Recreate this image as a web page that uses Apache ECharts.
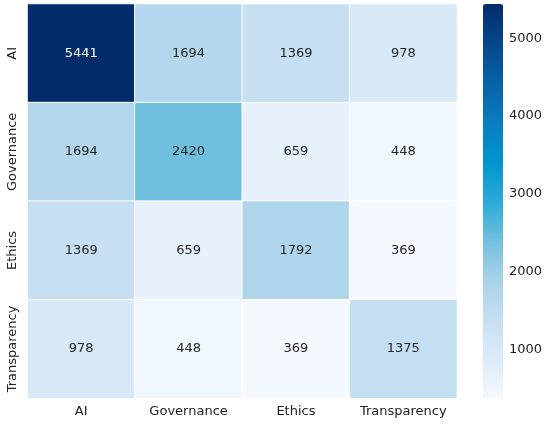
<!DOCTYPE html>
<html>
<head>
<meta charset="UTF-8">
<title>Heatmap</title>
<script src="https://cdn.jsdelivr.net/npm/echarts@6/dist/echarts.min.js"></script>
<style>
  html, body { margin: 0; padding: 0; background: #fff; }
  #main { width: 550px; height: 426px; }
</style>
</head>
<body>
<div id="main"></div>
<script>
// terms on both axes
var terms = ['AI', 'Governance', 'Ethics', 'Transparency'];
// co-occurrence counts, one row per term
var rowAI = [5441, 1694, 1369, 978];
var rowGovernance = [1694, 2420, 659, 448];
var rowEthics = [1369, 659, 1792, 369];
var rowTransparency = [978, 448, 369, 1375];
var barTicks = [1000, 2000, 3000, 4000, 5000];

var rows = [rowAI, rowGovernance, rowEthics, rowTransparency];
var vmin = 369, vmax = 5441;
var font = 'DejaVu Sans';

var cells = [];
for (var r = 0; r < rows.length; r++) {
  for (var c = 0; c < rows[r].length; c++) {
    var v = rows[r][c];
    cells.push({
      value: [c, r, v],
      label: { color: v > 4000 ? '#ffffff' : '#262626' }
    });
  }
}

var chart = echarts.init(document.getElementById('main'));
chart.setOption({
  animation: false,
  textStyle: { fontFamily: font },
  grid: [
    { left: 27.5, right: 93, top: 4, bottom: 27.7 },
    { left: 483, width: 20, top: 4, bottom: 27.7 }
  ],
  xAxis: [{
    type: 'category',
    data: terms,
    gridIndex: 0,
    axisLine: { show: false },
    axisTick: { alignWithLabel: true, length: 4, lineStyle: { color: '#333' } },
    axisLabel: { fontSize: 13, color: '#222', margin: 7, interval: 0, hideOverlap: false, fontFamily: font },
    splitArea: { show: false }
  }, {
    type: 'value',
    gridIndex: 1,
    show: false,
    min: 0,
    max: 1
  }],
  yAxis: [{
    type: 'category',
    data: terms,
    inverse: true,
    gridIndex: 0,
    axisLine: { show: false },
    axisTick: { alignWithLabel: true, length: 4, lineStyle: { color: '#333' } },
    axisLabel: { fontSize: 13, color: '#222', rotate: 90, margin: 8, interval: 0, hideOverlap: false, fontFamily: font },
    splitArea: { show: false }
  }, {
    type: 'value',
    gridIndex: 1,
    position: 'right',
    min: vmin,
    max: vmax,
    axisLine: { show: false },
    splitLine: { show: false },
    axisTick: { show: true, length: 4, customValues: barTicks, lineStyle: { color: '#333' } },
    axisLabel: {
      fontSize: 13, color: '#222', margin: 6, customValues: barTicks, fontFamily: font,
      formatter: function (v) { return String(v); }
    }
  }],
  visualMap: {
    type: 'continuous',
    min: vmin,
    max: vmax,
    calculable: false,
    orient: 'vertical',
    left: 483,
    top: 4,
    itemWidth: 20,
    itemHeight: 394.3,
    padding: 0,
    text: null,
    showLabel: false,
    seriesIndex: 0,
    inRange: {
      color: ['#f4f9ff', '#dcebf8', '#c5dff2', '#a9d2ea', '#72c0de', '#2aaad8',
              '#0095cc', '#0a7cc0', '#0862a8', '#05478a', '#022c6c']
    }
  },
  series: [{
    type: 'heatmap',
    xAxisIndex: 0,
    yAxisIndex: 0,
    data: cells,
    itemStyle: { borderColor: '#ffffff', borderWidth: 1 },
    label: { show: true, fontSize: 13, fontFamily: font },
    emphasis: { disabled: true }
  }, {
    type: 'line',
    xAxisIndex: 1,
    yAxisIndex: 1,
    data: [],
    silent: true
  }]
});
</script>
</body>
</html>
